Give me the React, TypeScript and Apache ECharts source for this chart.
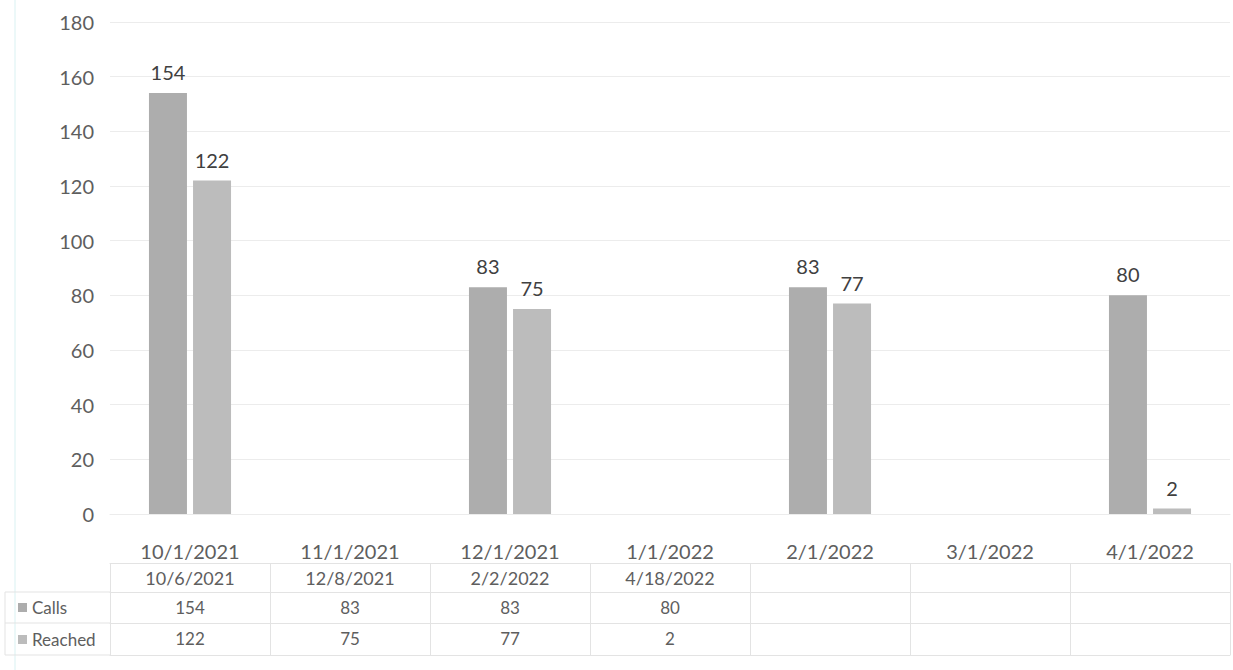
import React, { useEffect, useRef } from "react";
import * as echarts from "echarts";

// Axis categories (month buckets of the date axis)
const categories = ["10/1/2021", "11/1/2021", "12/1/2021", "1/1/2022", "2/1/2022", "3/1/2022", "4/1/2022"];
// Data table
const tableDates = ["10/6/2021", "12/8/2021", "2/2/2022", "4/18/2022"];
const calls = [154, 83, 83, 80];
const reached = [122, 75, 77, 2];
const seriesNames = ["Calls", "Reached"];
const yTicks = { min: 0, max: 180, interval: 20 };

const monthKey = (d: string) => {
  const [m, , y] = d.split("/");
  return `${m}/${y}`;
};
const catIndex = (d: string) => categories.findIndex((c) => monthKey(c) === monthKey(d));

const toBuckets = (vals: number[]) => {
  const out: (number | null)[] = categories.map(() => null);
  tableDates.forEach((d, i) => {
    out[catIndex(d)] = vals[i];
  });
  return out;
};
const pad = (vals: (string | number)[]) => categories.map((_, i) => (i < vals.length ? String(vals[i]) : ""));

const FONT = "Lato";
const TEXT = "#5e5e5e";
const LINE = "#e3e3e3";

export default function App() {
  const ref = useRef<HTMLDivElement>(null);
  useEffect(() => {
    const chart = echarts.init(ref.current!, undefined, { renderer: "svg" });
    const tableAxis = (offset: number, data: string[], opts: any = {}) => ({
      type: "category",
      position: "bottom",
      gridIndex: 0,
      offset,
      data,
      boundaryGap: true,
      axisLine: { show: true, onZero: false, lineStyle: { color: LINE, width: 1 } },
      axisTick: { show: false },
      axisLabel: { show: true, interval: 0, margin: 7, fontSize: 17, color: TEXT, fontFamily: FONT },
      splitLine: { show: false },
      ...opts,
    });
    chart.setOption({
      animation: false,
      textStyle: { fontFamily: FONT },
      grid: { left: 110, right: 3, top: 22, bottom: 156 },
      legend: {
        data: seriesNames,
        orient: "vertical",
        left: 13,
        top: 594,
        icon: "rect",
        itemWidth: 9,
        itemHeight: 9,
        itemGap: 15,
        textStyle: { fontSize: 17, color: TEXT, fontFamily: FONT },
        selectedMode: false,
      },
      xAxis: [
        {
          type: "category",
          position: "bottom",
          data: categories,
          axisLine: { show: true, lineStyle: { color: "#ececec" } },
          axisTick: { show: false },
          axisLabel: { interval: 0, margin: 27, fontSize: 20, color: TEXT, fontFamily: FONT },
        },
        tableAxis(49, pad(tableDates), {
          axisTick: { show: true, interval: 0, length: 92, lineStyle: { color: LINE } },
          axisLabel: { show: true, interval: 0, margin: 6, fontSize: 18, color: TEXT, fontFamily: FONT },
        }),
        tableAxis(78, pad(calls)),
        tableAxis(109, pad(reached)),
        tableAxis(141, pad([]), { axisLabel: { show: false } }),
      ],
      yAxis: {
        type: "value",
        min: yTicks.min,
        max: yTicks.max,
        interval: yTicks.interval,
        axisLine: { show: false },
        axisTick: { show: false },
        axisLabel: { fontSize: 20, color: TEXT, margin: 16, fontFamily: FONT },
        splitLine: { lineStyle: { color: "#ececec" } },
      },
      series: [
        {
          name: seriesNames[0],
          type: "bar",
          xAxisIndex: 0,
          data: toBuckets(calls),
          barWidth: 38,
          barGap: "16%",
          itemStyle: { color: "#adadad" },
          label: { show: true, position: "top", distance: 11, fontSize: 20, color: "#404040", fontFamily: FONT },
        },
        {
          name: seriesNames[1],
          type: "bar",
          xAxisIndex: 0,
          data: toBuckets(reached),
          barWidth: 38,
          barGap: "16%",
          itemStyle: { color: "#bcbcbc" },
          label: { show: true, position: "top", distance: 11, fontSize: 20, color: "#404040", fontFamily: FONT },
        },
      ],
      graphic: [
        { type: "line", shape: { x1: 15, y1: 0, x2: 15, y2: 670 }, style: { stroke: "#d9f1f2", lineWidth: 1 } },
        { type: "line", shape: { x1: 5, y1: 592, x2: 110, y2: 592 }, style: { stroke: LINE, lineWidth: 1 } },
        { type: "line", shape: { x1: 5, y1: 623, x2: 110, y2: 623 }, style: { stroke: LINE, lineWidth: 1 } },
        { type: "line", shape: { x1: 5, y1: 655, x2: 110, y2: 655 }, style: { stroke: LINE, lineWidth: 1 } },
        { type: "line", shape: { x1: 5, y1: 592, x2: 5, y2: 655 }, style: { stroke: LINE, lineWidth: 1 } },
      ],
    });
    return () => chart.dispose();
  }, []);
  return (
    <div
      ref={ref}
      style={{ position: "fixed", left: 0, top: 0, width: 1233, height: 670, background: "#ffffff" }}
    />
  );
}
